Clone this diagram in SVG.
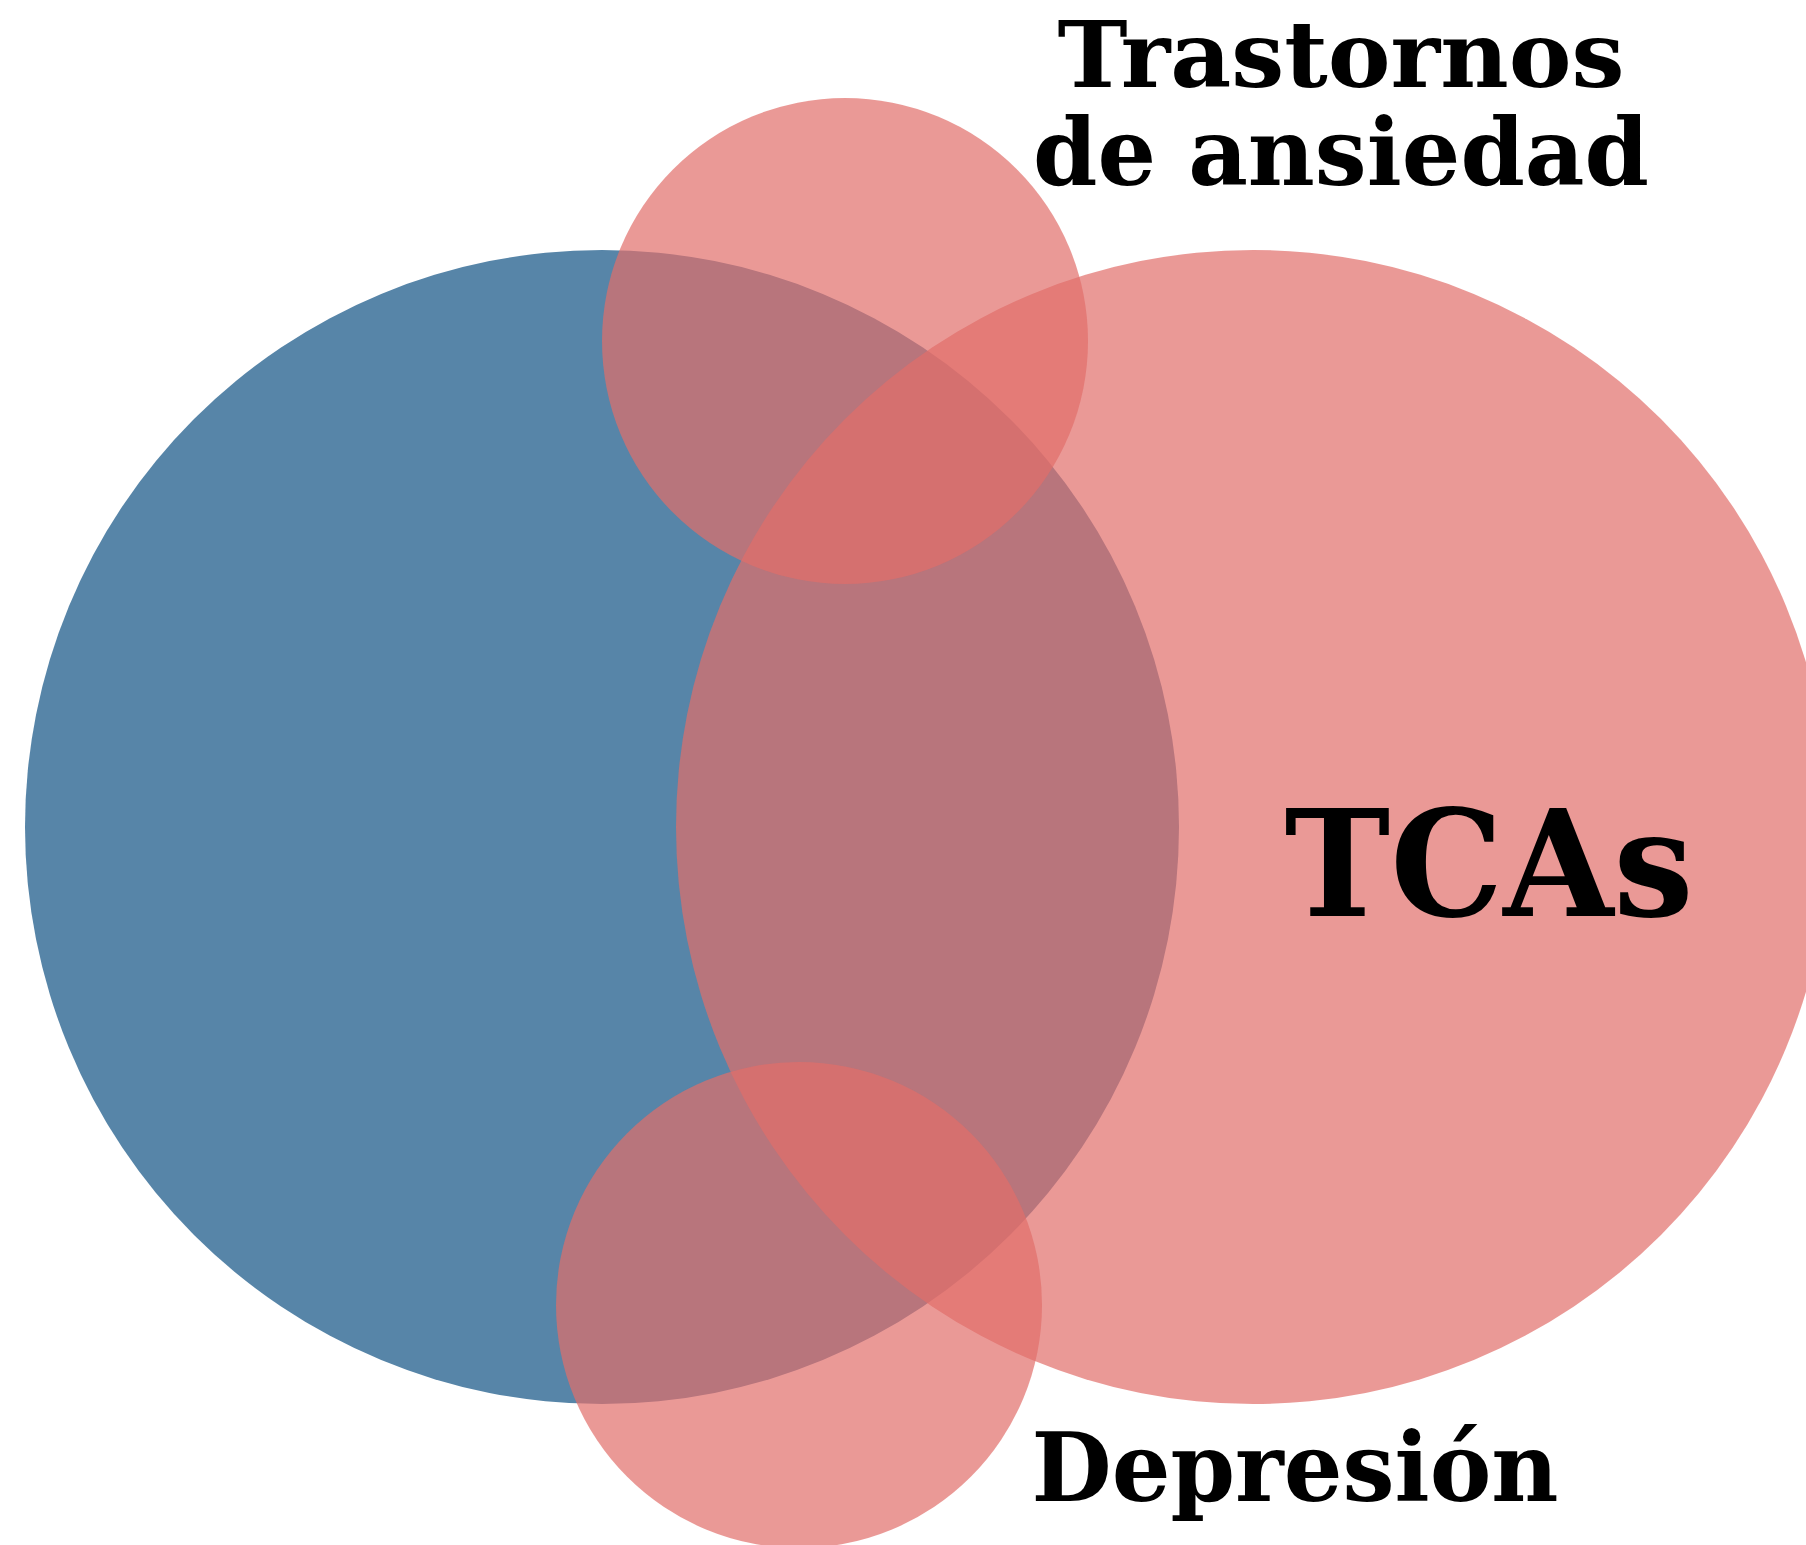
<svg xmlns="http://www.w3.org/2000/svg" width="1806" height="1545" viewBox="0 0 1806 1545">
<style>
.pink{fill:#e16e6a;fill-opacity:0.7}
.blue{fill:#5785a8}
.lbl{font-family:"DejaVu Serif","Liberation Serif",serif;font-weight:bold;fill:#000;text-anchor:middle}
</style>
<rect width="1806" height="1545" fill="#ffffff"/>
<g id="blue-set"><circle class="blue" cx="602" cy="827" r="577"/></g>
<g id="tcas"><circle class="pink" cx="1253" cy="827" r="577"/>
<text class="lbl" x="1489" y="916" font-size="148" textLength="409" lengthAdjust="spacingAndGlyphs">TCAs</text></g>
<g id="ansiedad"><circle class="pink" cx="845" cy="341" r="243"/>
<text class="lbl" x="1341" y="87" font-size="92" textLength="567" lengthAdjust="spacingAndGlyphs">Trastornos</text>
<text class="lbl" x="1341" y="185" font-size="94" textLength="616" lengthAdjust="spacingAndGlyphs">de ansiedad</text></g>
<g id="depresion"><circle class="pink" cx="799" cy="1305" r="243"/>
<text class="lbl" x="1295" y="1501" font-size="96" textLength="527" lengthAdjust="spacingAndGlyphs">Depresión</text></g>
<g id="connectors"></g>
</svg>
